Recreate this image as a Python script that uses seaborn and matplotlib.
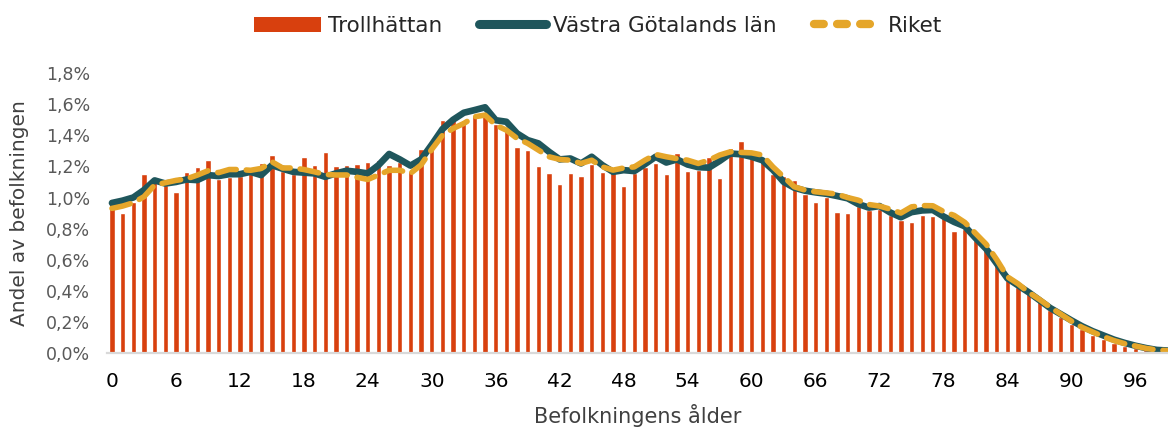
import numpy as np
import pandas as pd
import seaborn as sns
import matplotlib.pyplot as plt
from matplotlib.patches import Patch
from matplotlib.lines import Line2D
from matplotlib.ticker import FuncFormatter

# andel av befolkningen (%) per ålder 0-99
ages = list(range(100))

trollhattan = [
    0.99, 0.90, 0.97, 1.15, 1.10, 1.08, 1.035, 1.165, 1.195, 1.24,
    1.12, 1.13, 1.14, 1.19, 1.22, 1.275, 1.17, 1.15, 1.26, 1.21,
    1.29, 1.20, 1.21, 1.215, 1.23, 1.24, 1.21, 1.23, 1.17, 1.315,
    1.31, 1.50, 1.52, 1.50, 1.53, 1.55, 1.47, 1.45, 1.325, 1.305,
    1.205, 1.157, 1.084, 1.155, 1.138, 1.217, 1.164, 1.18, 1.075, 1.155,
    1.195, 1.219, 1.148, 1.287, 1.171, 1.18, 1.262, 1.125, 1.318, 1.363,
    1.27, 1.24, 1.15, 1.14, 1.112, 1.02, 0.97, 1.003, 0.906, 0.898,
    0.943, 0.92, 0.925, 0.89, 0.855, 0.844, 0.89, 0.878, 0.872, 0.784,
    0.80, 0.726, 0.665, 0.59, 0.469, 0.426, 0.384, 0.341, 0.276, 0.233,
    0.187, 0.152, 0.116, 0.09, 0.062, 0.044, 0.03, 0.02, 0.012, 0.007,
]

vastra_gotaland = [
    0.965, 0.98, 1.0, 1.048, 1.11, 1.09, 1.10, 1.116, 1.112, 1.144,
    1.138, 1.15, 1.15, 1.165, 1.144, 1.208, 1.185, 1.165, 1.16, 1.155,
    1.133, 1.155, 1.172, 1.165, 1.155, 1.208, 1.28, 1.245, 1.205, 1.245,
    1.34, 1.44, 1.50, 1.545, 1.562, 1.58, 1.497, 1.487, 1.412, 1.369,
    1.348, 1.294, 1.245, 1.251, 1.219, 1.262, 1.208, 1.165, 1.176, 1.17,
    1.215, 1.262, 1.225, 1.245, 1.212, 1.195, 1.192, 1.235, 1.283, 1.278,
    1.262, 1.24, 1.178, 1.101, 1.063, 1.044, 1.033, 1.024, 1.01, 0.995,
    0.958, 0.935, 0.945, 0.904, 0.873, 0.906, 0.917, 0.92, 0.878, 0.843,
    0.815, 0.74, 0.67, 0.575, 0.48, 0.435, 0.39, 0.34, 0.29, 0.25,
    0.21, 0.172, 0.14, 0.113, 0.086, 0.065, 0.047, 0.032, 0.02, 0.016,
]

riket = [
    0.93, 0.945, 0.966, 1.005, 1.08, 1.095, 1.11, 1.12, 1.144, 1.172,
    1.16, 1.18, 1.18, 1.175, 1.187, 1.23, 1.19, 1.19, 1.18, 1.165,
    1.148, 1.145, 1.145, 1.13, 1.116, 1.145, 1.175, 1.175, 1.155, 1.21,
    1.31, 1.40, 1.444, 1.476, 1.519, 1.53, 1.465, 1.433, 1.38, 1.348,
    1.305, 1.262, 1.245, 1.24, 1.219, 1.24, 1.197, 1.176, 1.19, 1.197,
    1.24, 1.277, 1.262, 1.25, 1.24, 1.219, 1.24, 1.273, 1.294, 1.29,
    1.287, 1.273, 1.197, 1.133, 1.069, 1.048, 1.037, 1.03, 1.022, 1.0,
    0.983, 0.955, 0.945, 0.925, 0.9, 0.94, 0.948, 0.947, 0.91, 0.885,
    0.84, 0.77, 0.70, 0.60, 0.49, 0.445, 0.39, 0.345, 0.295, 0.25,
    0.205, 0.165, 0.135, 0.105, 0.08, 0.06, 0.045, 0.03, 0.02, 0.015,
]

xtick_ages = list(range(0, 97, 6))

RED = '#D8400E'
TEAL = '#1F565C'
GOLD = '#E5A62A'
TEXT = '#404040'

sns.set_theme(style='white')
plt.rcParams['font.family'] = ['DejaVu Sans']

df = pd.DataFrame({'age': ages, 'Trollhättan': trollhattan,
                   'Västra Götalands län': vastra_gotaland, 'Riket': riket})

fig = plt.figure(figsize=(11.68, 4.30), dpi=100)
ax = fig.add_axes([0.0913, 0.179, 0.9087, 0.651])

sns.barplot(data=df, x='age', y='Trollhättan', color=RED, width=0.5,
            saturation=1, ax=ax)
sns.lineplot(x=np.arange(len(ages)), y=df['Västra Götalands län'], ax=ax,
             color=TEAL, linewidth=4.8, solid_capstyle='round',
             solid_joinstyle='round')
sns.lineplot(x=np.arange(len(ages)), y=df['Riket'], ax=ax, color=GOLD,
             linewidth=4.0, linestyle=(0, (3.4, 1.8)),
             dash_capstyle='round')

ax.set_xlim(-0.5, 99.06)
ax.set_ylim(0, 1.8)
ax.set_yticks(np.arange(0, 1.81, 0.2))
ax.yaxis.set_major_formatter(FuncFormatter(lambda v, p: f'{v:.1f}%'.replace('.', ',')))
ax.set_xticks(xtick_ages)
ax.set_xticklabels([str(a) for a in xtick_ages])

ax.tick_params(axis='y', length=0, pad=12, labelsize=12.5, labelcolor='#595959')
ax.tick_params(axis='x', length=0, pad=14, labelsize=14.5, labelcolor='black')

for s in ['top', 'right', 'left']:
    ax.spines[s].set_visible(False)
ax.spines['bottom'].set_color('#D9D9D9')
ax.spines['bottom'].set_linewidth(1.6)

ax.set_xlabel('Befolkningens ålder', fontsize=15, color=TEXT, labelpad=9)
ax.set_ylabel('Andel av befolkningen', fontsize=14.5, color=TEXT, labelpad=12)

handles = [
    Patch(facecolor=RED, edgecolor='none', label='Trollhättan'),
    Line2D([0], [0], color=TEAL, linewidth=6.5, solid_capstyle='round',
           label='Västra Götalands län'),
    Line2D([0], [0], color=GOLD, linewidth=6.0, linestyle=(0, (1.17, 1.6)),
           dash_capstyle='round', label='Riket'),
]
leg = fig.legend(handles=handles, loc='center', bbox_to_anchor=(0.512, 0.94),
                 ncol=3, frameon=False, fontsize=15.5, handlelength=3.1,
                 handleheight=0.7, columnspacing=1.7, handletextpad=0.35)
for t in leg.get_texts():
    t.set_color('#262626')

fig.savefig('out.png', dpi=100)
